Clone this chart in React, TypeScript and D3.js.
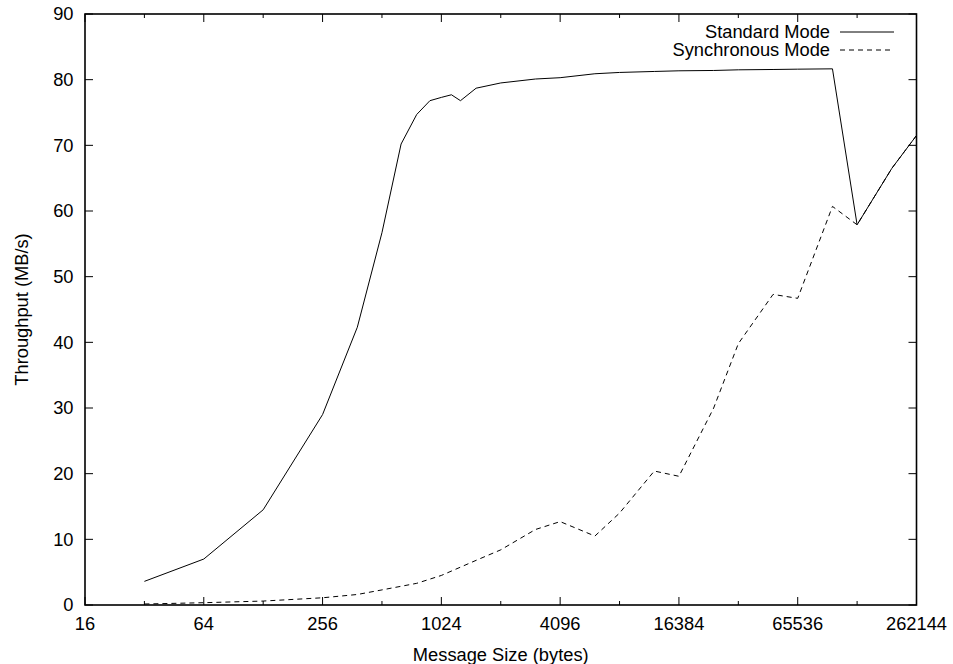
import React from "react";
import * as d3 from "d3";

const standardSizes = [32, 64, 128, 256, 384, 512, 640, 768, 896, 1024, 1152, 1280, 1536, 2048, 3072, 4096, 6144, 8192, 12288, 16384, 24576, 32768, 49152, 65536, 98304, 131072, 196608, 262144];
const standardValues = [3.6, 7.0, 14.5, 29.0, 42.3, 56.7, 70.2, 74.7, 76.8, 77.3, 77.7, 76.8, 78.7, 79.5, 80.1, 80.3, 80.9, 81.1, 81.25, 81.35, 81.4, 81.5, 81.55, 81.6, 81.65, 57.9, 66.5, 71.5];

const syncSizes = [32, 64, 128, 256, 384, 512, 768, 1024, 1536, 2048, 3072, 4096, 6144, 8192, 12288, 16384, 24576, 32768, 49152, 65536, 98304, 131072, 196608, 262144];
const syncValues = [0.15, 0.35, 0.6, 1.1, 1.6, 2.3, 3.3, 4.5, 6.8, 8.4, 11.5, 12.7, 10.5, 14.0, 20.4, 19.6, 30.0, 39.8, 47.3, 46.7, 60.7, 57.9, 66.5, 71.5];

const xMajorTicks = [16, 64, 256, 1024, 4096, 16384, 65536, 262144];
const xMinorTicks = [32, 128, 512, 2048, 8192, 32768, 131072];
const yTicks = [0, 10, 20, 30, 40, 50, 60, 70, 80, 90];

const seriesNames = ["Standard Mode", "Synchronous Mode"];

const W = 953;
const H = 664;
const L = 85, R = 916.5, T = 14, B = 605;
const FONT = "'Liberation Sans', Arial, Helvetica, sans-serif";
const FS = 18.3;

export default function App() {
  const x = d3.scaleLog().base(2).domain([16, 262144]).range([L, R]);
  const y = d3.scaleLinear().domain([0, 90]).range([B, T]);

  const line = d3
    .line<[number, number]>()
    .x((d) => x(d[0]))
    .y((d) => y(d[1]));

  const stdPts: [number, number][] = standardSizes.map((s, i) => [s, standardValues[i]]);
  const syncPts: [number, number][] = syncSizes.map((s, i) => [s, syncValues[i]]);

  return (
    <svg
      width={W}
      height={H}
      style={{ position: "fixed", left: 0, top: 0, background: "#fff" }}
      fontFamily={FONT}
      fontSize={FS}
    >
      <rect x={0} y={0} width={W} height={H} fill="#fff" />
      {xMajorTicks.map((t) => (
        <g key={"xM" + t}>
          <line x1={x(t)} x2={x(t)} y1={B} y2={B - 8} stroke="#000" strokeWidth={1} />
          <line x1={x(t)} x2={x(t)} y1={T} y2={T + 8} stroke="#000" strokeWidth={1} />
          <text x={x(t)} y={630} textAnchor="middle" fill="#000">
            {t}
          </text>
        </g>
      ))}
      {xMinorTicks.map((t) => (
        <g key={"xm" + t}>
          <line x1={x(t)} x2={x(t)} y1={B} y2={B - 4} stroke="#000" strokeWidth={1} />
          <line x1={x(t)} x2={x(t)} y1={T} y2={T + 4} stroke="#000" strokeWidth={1} />
        </g>
      ))}
      {yTicks.map((t) => (
        <g key={"y" + t}>
          <line x1={L} x2={L + 8} y1={y(t)} y2={y(t)} stroke="#000" strokeWidth={1} />
          <line x1={R} x2={R - 8} y1={y(t)} y2={y(t)} stroke="#000" strokeWidth={1} />
          <text x={73.5} y={y(t)} dy="0.35em" textAnchor="end" fill="#000">
            {t}
          </text>
        </g>
      ))}
      <path d={line(stdPts) || ""} fill="none" stroke="#000" strokeWidth={1} />
      <path d={line(syncPts) || ""} fill="none" stroke="#000" strokeWidth={1} strokeDasharray="5,4" />
      <rect x={L} y={T} width={R - L} height={B - T} fill="none" stroke="#000" strokeWidth={1.6} />
      <text x={830} y={32} dy="0.35em" textAnchor="end" fill="#000">
        {seriesNames[0]}
      </text>
      <line x1={840} x2={894} y1={32} y2={32} stroke="#000" strokeWidth={1} />
      <text x={830} y={50} dy="0.35em" textAnchor="end" fill="#000">
        {seriesNames[1]}
      </text>
      <line x1={840} x2={894} y1={50} y2={50} stroke="#000" strokeWidth={1} strokeDasharray="5,4" />
      <text x={(L + R) / 2} y={661} textAnchor="middle" fill="#000">
        Message Size (bytes)
      </text>
      <text
        transform={`translate(28, ${(T + B) / 2}) rotate(-90)`}
        textAnchor="middle"
        fill="#000"
      >
        Throughput (MB/s)
      </text>
    </svg>
  );
}
